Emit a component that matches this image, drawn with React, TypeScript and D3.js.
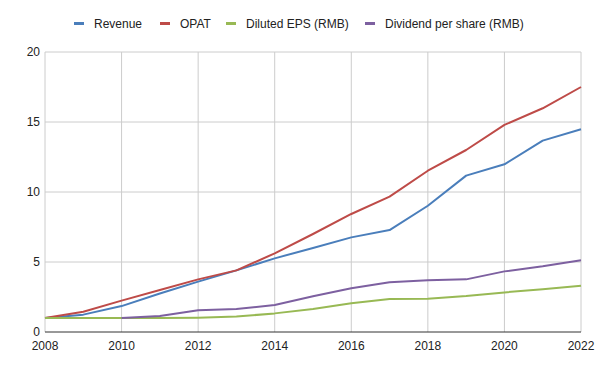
import React from "react";
import * as d3 from "d3";

const years = [2008, 2009, 2010, 2011, 2012, 2013, 2014, 2015, 2016, 2017, 2018, 2019, 2020, 2021, 2022];
const revenue = [1.0, 1.24, 1.85, 2.75, 3.6, 4.4, 5.26, 6.0, 6.76, 7.28, 9.02, 11.17, 11.98, 13.67, 14.48];
const opat = [1.0, 1.45, 2.24, 3.0, 3.76, 4.4, 5.62, 7.0, 8.43, 9.67, 11.52, 13.0, 14.79, 15.98, 17.5];
const eps = [1.0, 1.0, 1.0, 1.0, 1.02, 1.1, 1.33, 1.65, 2.05, 2.36, 2.38, 2.57, 2.83, 3.05, 3.31];
const dividend = [null, null, 1.0, 1.14, 1.55, 1.64, 1.93, 2.55, 3.12, 3.55, 3.69, 3.76, 4.33, 4.69, 5.12];
const yTicks = [0, 5, 10, 15, 20];
const xTicks = [2008, 2010, 2012, 2014, 2016, 2018, 2020, 2022];

const series = [
  { name: "Revenue", values: revenue, color: "#4a7ebb", lx: 74 },
  { name: "OPAT", values: opat, color: "#be4b48", lx: 160 },
  { name: "Diluted EPS (RMB)", values: eps, color: "#98b954", lx: 226 },
  { name: "Dividend per share (RMB)", values: dividend, color: "#7d60a0", lx: 365 },
];

const W = 600;
const H = 371;
const left = 45;
const right = 581;
const top = 52;
const bottom = 332;
const font = "'Liberation Sans', Arial, sans-serif";

export default function App() {
  const x = d3.scaleLinear().domain([2008, 2022]).range([left, right]);
  const y = d3.scaleLinear().domain([0, 20]).range([bottom, top]);
  const line = d3
    .line<number | null>()
    .defined((d) => d != null)
    .x((_, i) => x(years[i]))
    .y((d) => y(d as number));

  return (
    <svg width={W} height={H} style={{ position: "absolute", left: 0, top: 0 }} fontFamily={font}>
      <rect width={W} height={H} fill="#fff" />
      {yTicks.map((t) => (
        <g key={"y" + t}>
          {t > 0 && <line x1={left} x2={right} y1={y(t)} y2={y(t)} stroke="#cccccc" strokeWidth={1} />}
          <text x={left - 5} y={y(t)} dy="0.35em" textAnchor="end" fontSize={12} fill="#222">
            {t}
          </text>
        </g>
      ))}
      {xTicks.map((t) => (
        <g key={"x" + t}>
          <line x1={x(t)} x2={x(t)} y1={top} y2={bottom} stroke="#cccccc" strokeWidth={1} />
          <text x={x(t)} y={350} textAnchor="middle" fontSize={12} fill="#222">
            {t}
          </text>
        </g>
      ))}
      <line x1={left} x2={right} y1={bottom} y2={bottom} stroke="#333" strokeWidth={1} />
      {series.map((s) => (
        <path key={s.name} d={line(s.values) || ""} fill="none" stroke={s.color} strokeWidth={2} strokeLinejoin="round" />
      ))}
      {series.map((s) => (
        <g key={"l" + s.name}>
          <rect x={s.lx} y={22} width={10} height={3} fill={s.color} />
          <text x={s.lx + 20} y={24} dy="0.35em" fontSize={12} fill="#222">
            {s.name}
          </text>
        </g>
      ))}
    </svg>
  );
}
